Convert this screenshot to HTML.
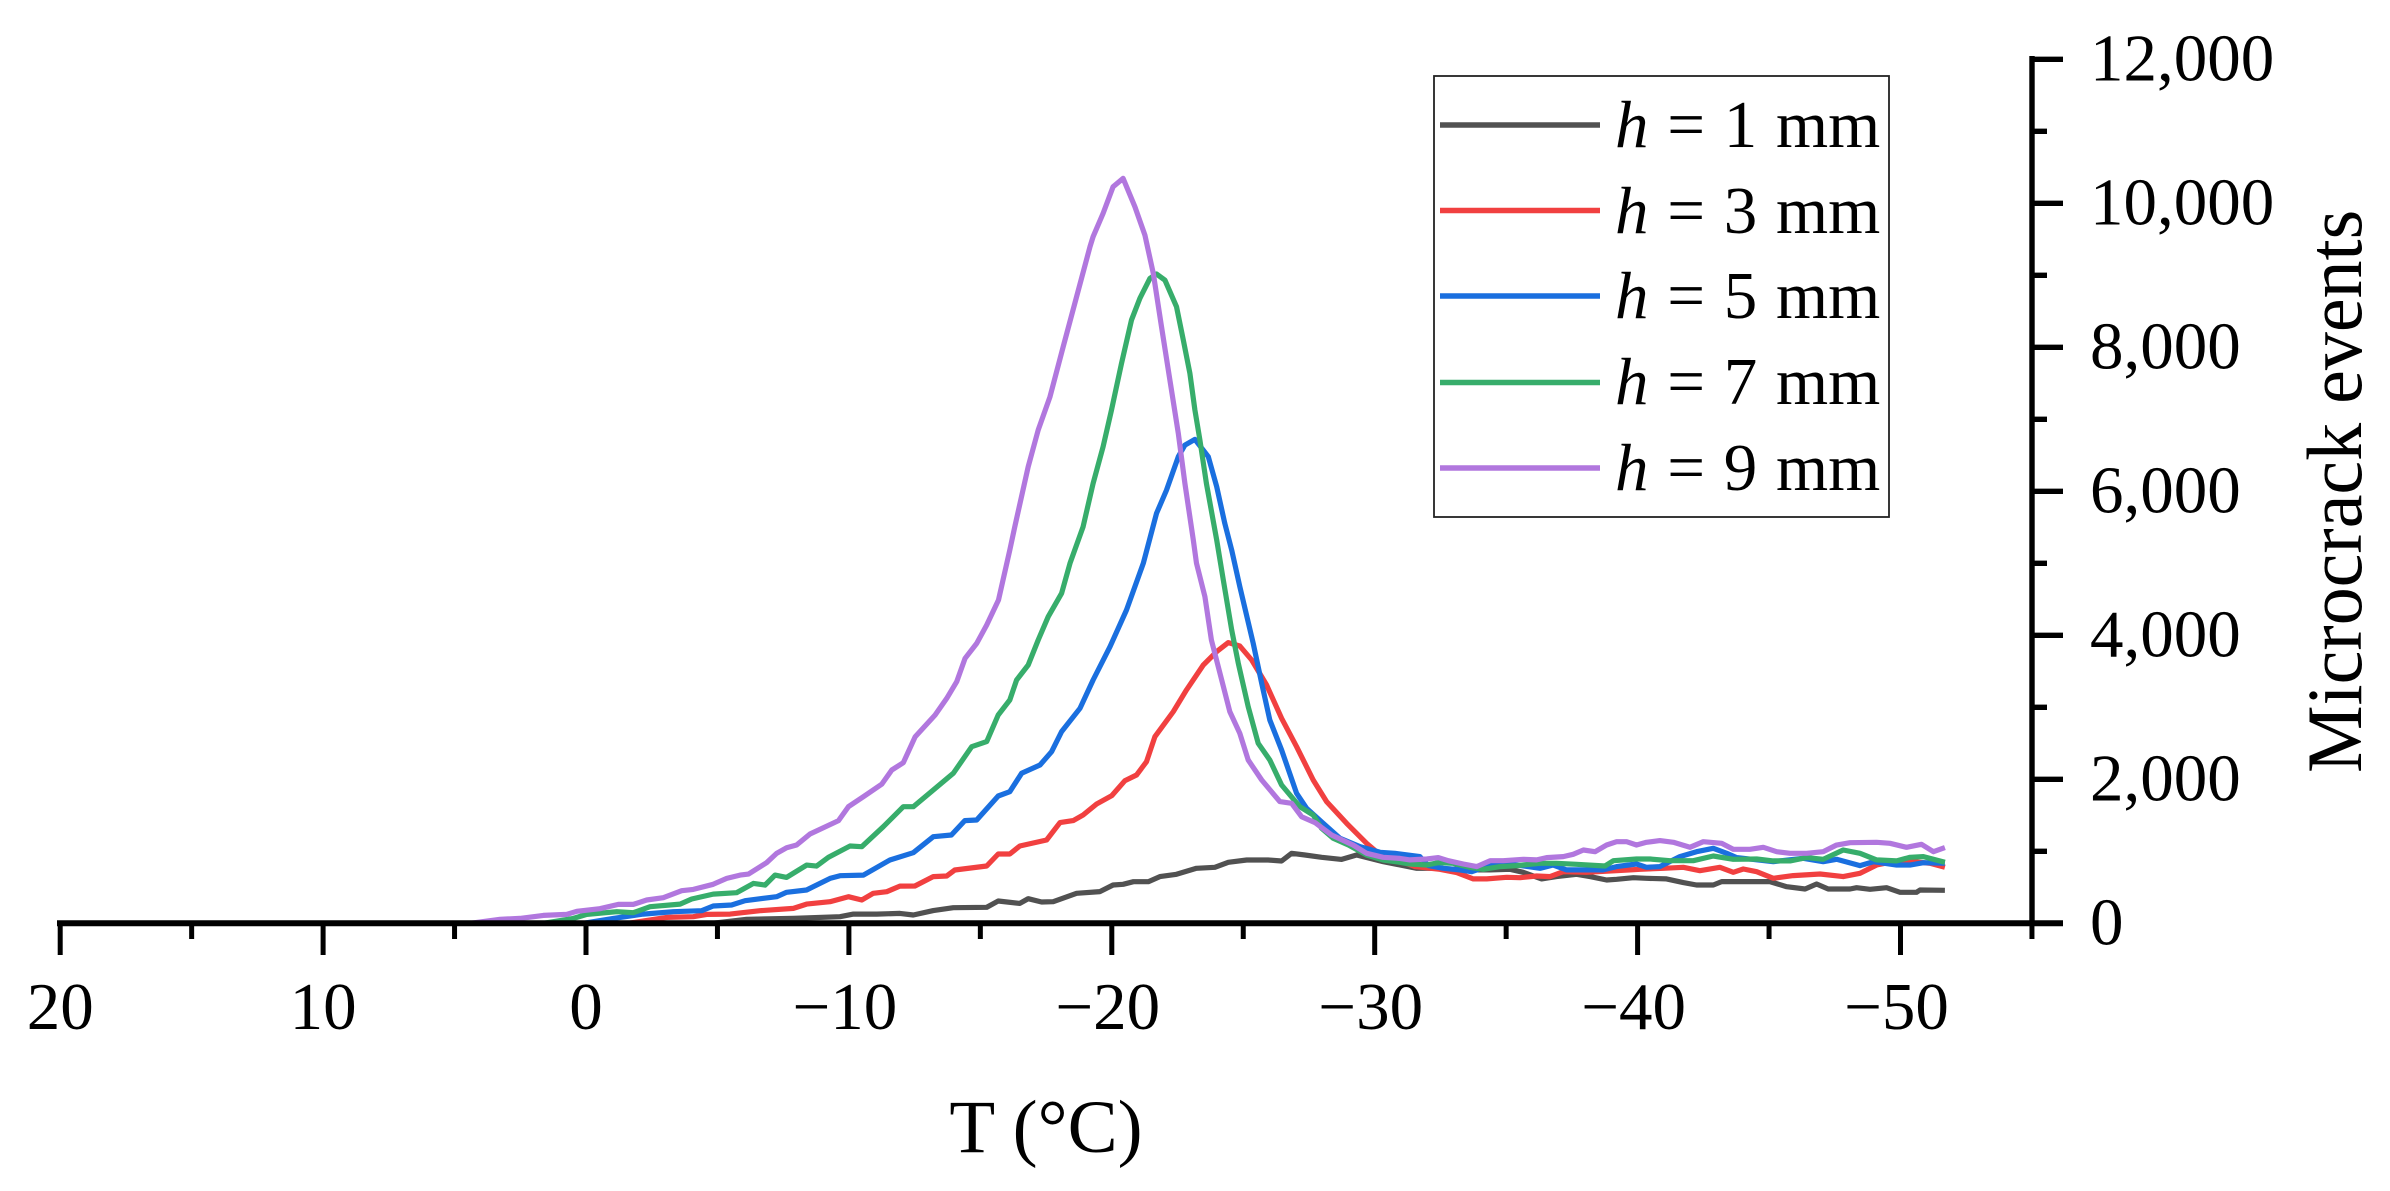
<!DOCTYPE html>
<html lang="en">
<head>
<meta charset="utf-8">
<title>Microcrack events vs temperature</title>
<style>
html,body{margin:0;padding:0;background:#fff}
svg{display:block}
text{font-family:"Liberation Serif","Times New Roman",serif;fill:#000}
</style>
</head>
<body>
<svg id="chart" xmlns="http://www.w3.org/2000/svg" width="2390" height="1191" viewBox="0 0 2390 1191">
  <rect x="0" y="0" width="2390" height="1191" fill="#fff"/>
  <g id="series-layer" fill="none" stroke-width="5.2" stroke-linejoin="round" stroke-linecap="butt"></g>
  <g id="axis-layer"></g>
  <text x="1046" y="1152" font-size="75" text-anchor="middle">T (°C)</text>
  <text transform="translate(2361,773) rotate(-90) scale(1,1.03)" font-size="76">Microcrack events</text>
  <g>
    <rect x="1434" y="76" width="455" height="441" fill="#fff" stroke="#222" stroke-width="1.8"/>
    <g>
      <line x1="1440" x2="1600" y1="125" y2="125" stroke="#515151" stroke-width="5.4"/>
      <text x="1615" y="147" font-size="67" word-spacing="2"><tspan font-style="italic">h</tspan> = 1 mm</text>
    </g>
    <g>
      <line x1="1440" x2="1600" y1="210.5" y2="210.5" stroke="#F14040" stroke-width="5.4"/>
      <text x="1615" y="233" font-size="67" word-spacing="2"><tspan font-style="italic">h</tspan> = 3 mm</text>
    </g>
    <g>
      <line x1="1440" x2="1600" y1="296" y2="296" stroke="#1A6FDF" stroke-width="5.4"/>
      <text x="1615" y="318" font-size="67" word-spacing="2"><tspan font-style="italic">h</tspan> = 5 mm</text>
    </g>
    <g>
      <line x1="1440" x2="1600" y1="382.5" y2="382.5" stroke="#37AD6B" stroke-width="5.4"/>
      <text x="1615" y="404" font-size="67" word-spacing="2"><tspan font-style="italic">h</tspan> = 7 mm</text>
    </g>
    <g>
      <line x1="1440" x2="1600" y1="468" y2="468" stroke="#B177DE" stroke-width="5.4"/>
      <text x="1615" y="490" font-size="67" word-spacing="2"><tspan font-style="italic">h</tspan> = 9 mm</text>
    </g>
  </g>
</svg>
<script>
const xMajorTicks = [20, 10, 0, -10, -20, -30, -40, -50];
const xMinorTicks = [15, 5, -5, -15, -25, -35, -45, -55];
const yMajorTicks = [0, 2000, 4000, 6000, 8000, 10000, 12000];
const yMinorTicks = [1000, 3000, 5000, 7000, 9000, 11000];

const tempsH1 = [-4.8,-6.11,-7.89,-9.66,-10.17,-11.06,-11.94,-12.45,-13.21,-13.97,-15.24,-15.68,-16.5,-16.82,-17.33,-17.77,-18.66,-19.55,-20.05,-20.43,-20.82,-21.39,-21.83,-22.46,-23.22,-23.92,-24.43,-25.13,-25.95,-26.46,-26.84,-27.35,-27.98,-28.74,-29.31,-29.82,-30.33,-31.6,-32.23,-33.75,-34.39,-35.15,-35.65,-36.35,-36.92,-37.68,-38.19,-38.82,-39.2,-39.84,-40.34,-41.1,-41.74,-42.24,-42.88,-43.2,-45.03,-45.67,-46.37,-46.81,-47.25,-48.08,-48.33,-48.84,-49.47,-49.98,-50.61,-50.74,-51.69];
const countsH1 = [0,55,68,91,128,128,138,115,176,217,222,310,277,342,296,300,416,440,532,541,578,578,648,680,764,778,847,879,879,865,972,949,916,888,949,903,856,764,764,741,741,750,708,616,648,680,648,602,611,634,625,616,565,532,532,579,579,509,477,546,477,477,495,472,495,430,430,463,458];

const tempsH3 = [-1.61,-3.07,-4.08,-4.59,-5.48,-6.62,-7.89,-8.39,-9.28,-9.98,-10.49,-10.93,-11.44,-11.94,-12.51,-13.21,-13.72,-14.03,-15.24,-15.68,-16.12,-16.5,-17.52,-18.03,-18.53,-18.91,-19.42,-20,-20.5,-20.94,-21.32,-21.64,-22.34,-22.84,-23.48,-23.99,-24.43,-24.87,-25.32,-25.89,-26.46,-27.03,-27.66,-28.17,-28.93,-29.69,-30.07,-31.53,-31.79,-32.48,-33.12,-33.75,-34.26,-35.02,-35.53,-36.16,-36.67,-37.17,-38.06,-39.71,-40.09,-40.98,-41.74,-42.37,-43.13,-43.64,-44.02,-44.53,-45.16,-45.92,-46.94,-47.82,-48.46,-49.09,-49.72,-50.49,-51.12,-51.69];
const countsH3 = [0,82,91,124,128,175,207,267,300,369,323,416,439,517,518,648,657,740,796,963,963,1074,1157,1398,1426,1504,1657,1773,1981,2060,2245,2592,2940,3241,3588,3773,3898,3852,3657,3310,2847,2453,1990,1690,1389,1111,995,787,778,750,704,616,616,639,634,657,648,717,708,741,750,764,778,731,778,708,754,717,625,662,685,648,694,810,856,856,833,778];

const tempsH5 = [0.1,-1.04,-2.18,-3.32,-4.4,-4.84,-5.54,-6.05,-7.25,-7.63,-8.39,-9.28,-9.66,-10.55,-11.56,-12.45,-13.21,-13.9,-14.41,-14.86,-15.68,-16.12,-16.57,-17.27,-17.71,-18.09,-18.79,-19.29,-19.93,-20.56,-21.2,-21.7,-22.08,-22.53,-22.78,-23.16,-23.67,-23.99,-24.3,-24.56,-24.87,-25.38,-25.7,-26.01,-26.46,-27.03,-27.41,-28.04,-28.68,-29.44,-30.2,-30.77,-31.72,-32.04,-32.61,-33.24,-33.69,-34.26,-34.89,-35.4,-36.29,-36.79,-37.3,-38.69,-39.2,-39.96,-40.34,-40.85,-41.61,-42.24,-42.88,-43.39,-43.77,-45.16,-46.3,-47.06,-47.57,-48.46,-48.97,-49.85,-50.36,-50.87,-51.69];
const countsH5 = [0,68,128,161,175,240,254,314,369,430,462,624,661,670,879,980,1203,1226,1426,1435,1768,1828,2083,2199,2384,2662,2986,3379,3842,4352,5000,5693,6017,6480,6642,6721,6480,6064,5554,5184,4676,3889,3333,2824,2407,1805,1597,1389,1180,1065,986,972,926,801,764,741,717,787,856,810,764,810,741,741,787,824,778,787,926,995,1041,972,912,856,903,856,889,801,856,810,810,842,833];

const tempsH7 = [1.62,0.48,-0.03,-1.17,-1.8,-2.44,-3.58,-4.02,-4.84,-5.73,-6.37,-6.81,-7.19,-7.63,-8.39,-8.77,-9.22,-10.04,-10.49,-11.31,-12.07,-12.45,-13.21,-13.97,-14.67,-15.24,-15.68,-16.12,-16.38,-16.82,-17.2,-17.58,-18.09,-18.41,-18.91,-19.29,-19.67,-19.99,-20.37,-20.75,-21.07,-21.45,-21.7,-22.02,-22.46,-22.72,-22.97,-23.16,-23.35,-23.6,-23.99,-24.24,-24.56,-24.81,-25.19,-25.57,-26.01,-26.46,-27.15,-27.66,-27.98,-28.42,-29,-29.69,-30.32,-30.96,-31.34,-31.98,-32.42,-32.99,-33.62,-34.13,-34.77,-35.4,-36.29,-36.92,-37.68,-38.76,-39.08,-39.96,-40.47,-41.23,-42.12,-42.88,-43.64,-44.53,-45.16,-45.8,-46.43,-47.06,-47.82,-48.46,-49.09,-49.85,-50.36,-50.87,-51.69];
const countsH7 = [0,68,124,161,147,230,267,337,406,425,554,531,670,638,809,795,916,1073,1064,1342,1619,1619,1851,2083,2453,2523,2893,3102,3379,3588,3935,4259,4583,5000,5508,6110,6619,7129,7777,8379,8680,8957,9018,8934,8564,8101,7638,7129,6712,6110,5323,4768,4074,3611,3009,2500,2268,1921,1620,1504,1319,1180,1088,949,879,847,824,810,842,833,778,750,787,801,833,833,819,796,870,893,893,870,870,935,889,893,866,866,912,889,1018,972,880,866,917,926,847];

const tempsH9 = [4.4,3.27,2.51,1.62,0.73,0.35,-0.53,-1.23,-1.8,-2.31,-2.94,-3.64,-4.08,-4.84,-5.35,-5.86,-6.18,-6.87,-7.25,-7.63,-8.01,-8.52,-9.6,-9.98,-10.55,-11.25,-11.63,-12.07,-12.52,-13.28,-13.72,-14.1,-14.42,-14.86,-15.24,-15.69,-16.12,-16.31,-16.82,-17.2,-17.65,-18.15,-18.66,-19.17,-19.29,-19.67,-20.05,-20.43,-20.88,-21.26,-21.58,-21.89,-22.21,-22.53,-22.78,-23.1,-23.22,-23.54,-23.79,-24.18,-24.49,-24.87,-25.19,-25.7,-26.39,-26.84,-27.22,-27.73,-28.36,-29.18,-29.69,-30.32,-30.96,-31.34,-31.98,-32.42,-32.8,-33.37,-33.88,-34.39,-34.89,-35.65,-36.16,-36.54,-37.17,-37.55,-37.94,-38.38,-38.82,-39.2,-39.58,-39.96,-40.34,-40.85,-41.36,-41.99,-42.5,-43.2,-43.64,-44.27,-44.78,-45.29,-45.8,-46.43,-47.06,-47.57,-48.08,-49.09,-49.6,-50.23,-50.8,-51.25,-51.69];
const countsH9 = [0,55,68,110,124,166,203,263,263,323,355,453,471,541,624,670,684,842,971,1050,1087,1240,1425,1619,1758,1934,2129,2231,2592,2893,3124,3356,3680,3888,4143,4490,5184,5508,6341,6851,7314,8008,8703,9397,9536,9860,10231,10346,9953,9559,9027,8286,7545,6805,6110,5323,5000,4537,3935,3379,2940,2639,2268,1990,1690,1666,1481,1398,1227,1088,972,916,902,880,893,912,870,824,787,870,870,889,880,912,926,958,1018,995,1088,1134,1134,1088,1125,1148,1125,1055,1134,1111,1028,1028,1055,995,972,972,995,1088,1120,1125,1111,1055,1097,995,1051];

const seriesColors = ['#515151', '#F14040', '#1A6FDF', '#37AD6B', '#B177DE'];

const NS = 'http://www.w3.org/2000/svg';
const xScale = function (t) { return 586 - 26.29 * t; };
const yScale = function (v) { return 923.3 - 0.072 * v; };
const axisLayer = document.getElementById('axis-layer');
const seriesLayer = document.getElementById('series-layer');

function makeLine(x1, y1, x2, y2, width) {
  const l = document.createElementNS(NS, 'line');
  l.setAttribute('x1', x1);
  l.setAttribute('y1', y1);
  l.setAttribute('x2', x2);
  l.setAttribute('y2', y2);
  l.setAttribute('stroke', '#000');
  l.setAttribute('stroke-width', width);
  axisLayer.appendChild(l);
  return l;
}

function makeText(str, x, y, anchor) {
  const t = document.createElementNS(NS, 'text');
  t.setAttribute('x', x);
  t.setAttribute('y', y);
  t.setAttribute('font-size', '67');
  t.setAttribute('text-anchor', anchor);
  t.textContent = str;
  axisLayer.appendChild(t);
  return t;
}

function drawSeries(temps, counts, color, name) {
  const p = document.createElementNS(NS, 'polyline');
  p.setAttribute('points', temps.map(function (t, i) {
    return xScale(t).toFixed(1) + ',' + yScale(counts[i]).toFixed(1);
  }).join(' '));
  p.setAttribute('stroke', color);
  
  
  seriesLayer.appendChild(p);
}

drawSeries(tempsH1, countsH1, seriesColors[0], 'series-h1');
drawSeries(tempsH3, countsH3, seriesColors[1], 'series-h3');
drawSeries(tempsH5, countsH5, seriesColors[2], 'series-h5');
drawSeries(tempsH7, countsH7, seriesColors[3], 'series-h7');
drawSeries(tempsH9, countsH9, seriesColors[4], 'series-h9');

const xAxisLine = makeLine(57, 923.3, 2063, 923.3, 6);



const yAxisLine = makeLine(2032, 56, 2032, 926, 5.4);



xMajorTicks.forEach(function (t) {
  const tick = makeLine(xScale(t), 923, xScale(t), 955, 5);
  
  
  const label = makeText(String(t).replace('-', '\u2212'), xScale(t) - (t < 0 ? 4 : 0), 1029, 'middle');
  
  
});

xMinorTicks.forEach(function (t) {
  const tick = makeLine(xScale(t), 923, xScale(t), 939, 5);
  
  
});

yMajorTicks.forEach(function (v) {
  const tick = makeLine(2032, yScale(v), 2063, yScale(v), 5.4);
  
  
  const label = makeText(v.toLocaleString('en-US'), 2090, yScale(v) + 21, 'start');
  
  
});

yMinorTicks.forEach(function (v) {
  const tick = makeLine(2032, yScale(v), 2047, yScale(v), 5.4);
  
  
});
</script>
</body>
</html>
